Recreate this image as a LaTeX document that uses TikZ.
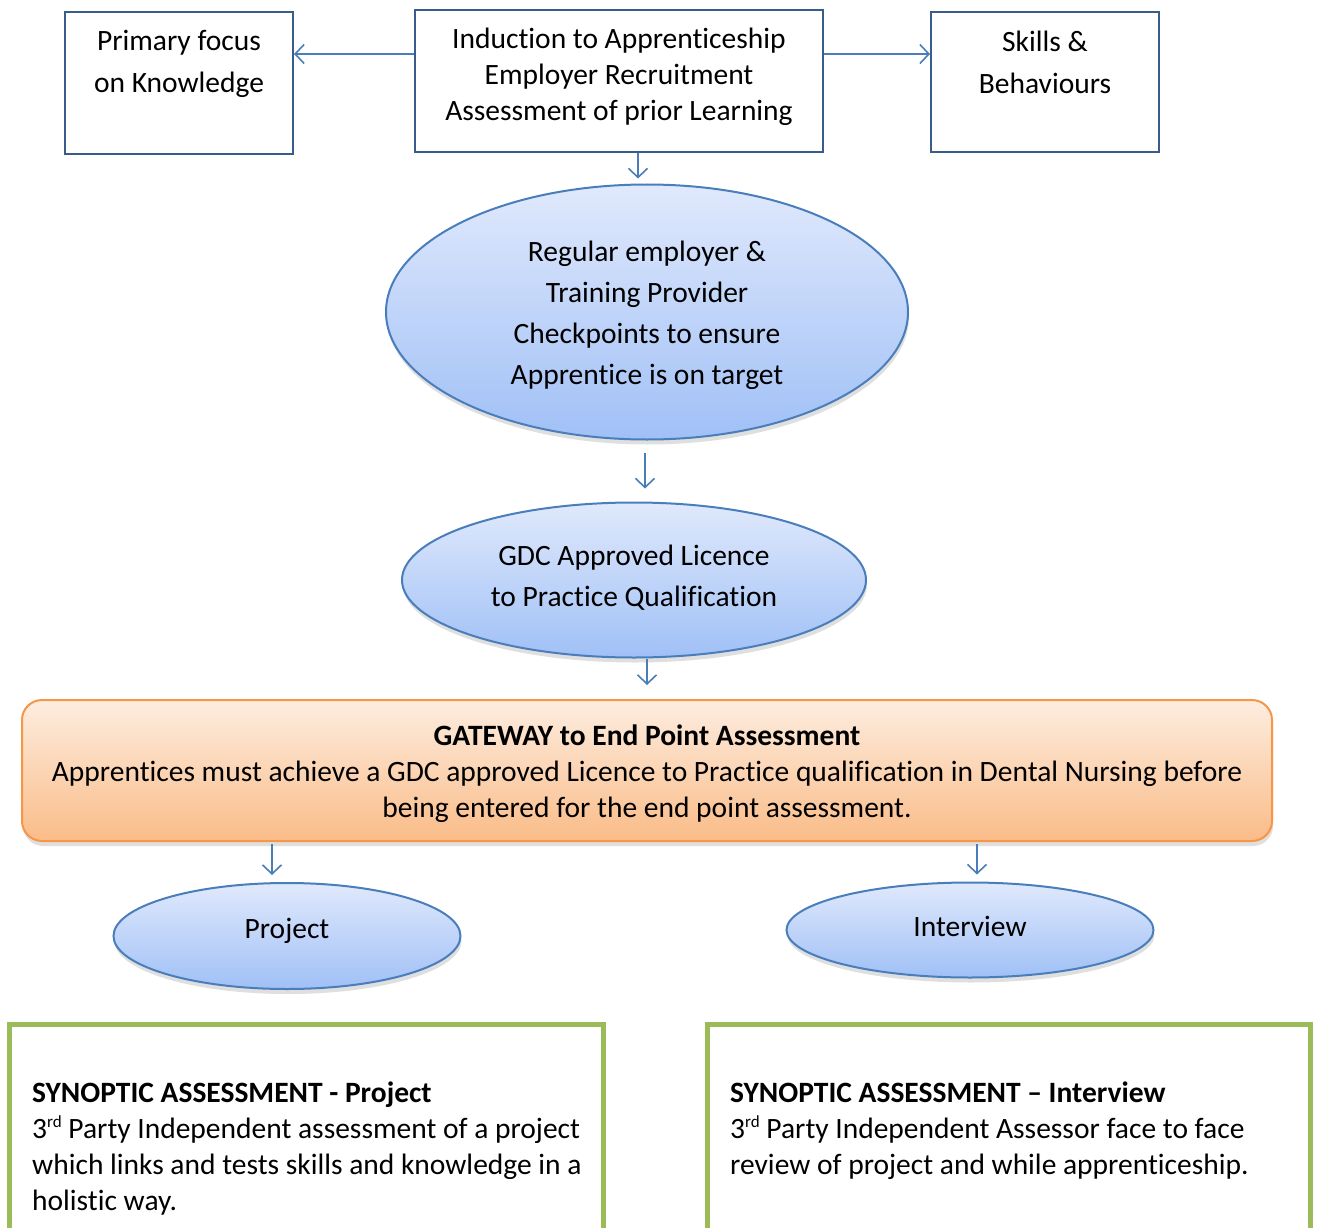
\documentclass[tikz,border=0pt]{standalone}
\usepackage{fontspec}
\setmainfont{Carlito}[Ligatures=NoCommon]
\usetikzlibrary{arrows.meta,shapes.geometric,shadows}
\definecolor{Bx}{RGB}{56,93,138}
\definecolor{Ar}{RGB}{74,126,187}
\definecolor{Et}{RGB}{224,233,252}
\definecolor{Eb}{RGB}{160,192,246}
\definecolor{Ot}{RGB}{253,237,224}
\definecolor{Ob}{RGB}{250,188,136}
\definecolor{Or}{RGB}{247,150,70}
\definecolor{G}{RGB}{155,187,89}
\newcommand{\ordsup}[1]{\raisebox{11pt}{\fontsize{17}{17}\selectfont #1}}

\begin{document}
\begin{tikzpicture}[x=1pt,y=-1pt,
  txt/.style={font=\fontsize{29.5}{36}\selectfont, align=center, inner sep=0pt},
  caja/.style={draw=Bx, line width=2pt},
  elip/.style={ellipse, draw=Ar, line width=2pt, top color=Et, bottom color=Eb,
    drop shadow={shadow xshift=1pt, shadow yshift=-5pt, opacity=0.25}},
  flecha/.style={draw=Ar, line width=1.6pt, -{Straight Barb[length=9pt,width=19pt]}},
  verde/.style={draw=G, line width=5pt}]

  \clip (0,0) rectangle (1318,1228);
  \fill[white] (0,0) rectangle (1318,1228);

  % cajas de arriba
  \node[caja, minimum width=228pt, minimum height=142pt] (know) at (179,83) {};
  \node[txt, font=\fontsize{29.5}{42}\selectfont] (knowtxt) at (179,64) {Primary focus\\on Knowledge};
  \node[caja, minimum width=408pt, minimum height=142pt] (induct) at (619,81) {};
  \node[txt] (inducttxt) at (619,77) {Induction to Apprenticeship\\Employer Recruitment\\Assessment of prior Learning};
  \node[caja, minimum width=228pt, minimum height=140pt] (skill) at (1045,82) {};
  \node[txt, font=\fontsize{29.5}{42}\selectfont] (skilltxt) at (1045,62) {Skills \&\\Behaviours};

  % elipses
  \node[elip, minimum width=522pt, minimum height=255pt] (reg) at (647,312) {};
  \node[txt, font=\fontsize{29.5}{41}\selectfont] (regtxt) at (647,315) {Regular employer \&\\Training Provider\\Checkpoints to ensure\\Apprentice is on target};
  \node[elip, minimum width=464pt, minimum height=155pt] (gdc) at (634,580) {};
  \node[txt, font=\fontsize{29.5}{41}\selectfont] (gdctxt) at (634,578) {GDC Approved Licence\\to Practice Qualification};

  % gateway
  \node[draw=Or, line width=2pt, rounded corners=20pt, top color=Ot, bottom color=Ob,
    drop shadow={shadow xshift=1pt, shadow yshift=-5pt, opacity=0.25},
    minimum width=1250pt, minimum height=141pt] (gate) at (647,770.5) {};
  \node[txt] (gatetxt) at (647,774) {\textbf{GATEWAY to End Point Assessment}\\Apprentices must achieve a GDC approved Licence to Practice qualification in Dental Nursing before\\being entered for the end point assessment.};

  \node[elip, minimum width=347pt, minimum height=106pt] (proj) at (287,936) {};
  \node[txt] (projtxt) at (287,931) {Project};
  \node[elip, minimum width=367pt, minimum height=95pt] (intv) at (970,930) {};
  \node[txt] (intvtxt) at (970,926) {Interview};

  % cajas verdes
  \node[verde, minimum width=594pt, minimum height=300pt] (synproj) at (306,1174) {};
  \node[txt, align=left, anchor=north west] (synprojtxt) at (32,1082) {\textbf{SYNOPTIC ASSESSMENT - Project}\\3\ordsup{rd} Party Independent assessment of a project\\which links and tests skills and knowledge in a\\holistic way.};
  \node[verde, minimum width=603pt, minimum height=300pt] (synint) at (1008.5,1174) {};
  \node[txt, align=left, anchor=north west] (syninttxt) at (730,1082) {\textbf{SYNOPTIC ASSESSMENT – Interview}\\3\ordsup{rd} Party Independent Assessor face to face\\review of project and while apprenticeship.};

  % flechas
  \draw[flecha] ([yshift=27pt]induct.west) -- ([yshift=29pt]know.east);
  \draw[flecha] ([yshift=27pt]induct.east) -- ([yshift=28pt]skill.east -| skill.west);
  \draw[flecha, shorten >=5pt] ([xshift=19pt]induct.south) -- ([xshift=19pt]induct.south |- reg.north);
  \draw[flecha, shorten <=12pt, shorten >=13pt] ([xshift=-2pt]reg.south) -- ([xshift=-2pt]reg.south |- gdc.north);
  \draw[flecha, shorten >=14pt] (gate.north |- gdc.south) -- (gate.north);
  \draw[flecha, shorten <=2pt, shorten >=7pt] ([xshift=-15pt]proj.north |- gate.south) -- ([xshift=-15pt]proj.north);
  \draw[flecha, shorten <=2pt, shorten >=7pt] ([xshift=7pt]intv.north |- gate.south) -- ([xshift=7pt]intv.north);
\end{tikzpicture}
\end{document}
